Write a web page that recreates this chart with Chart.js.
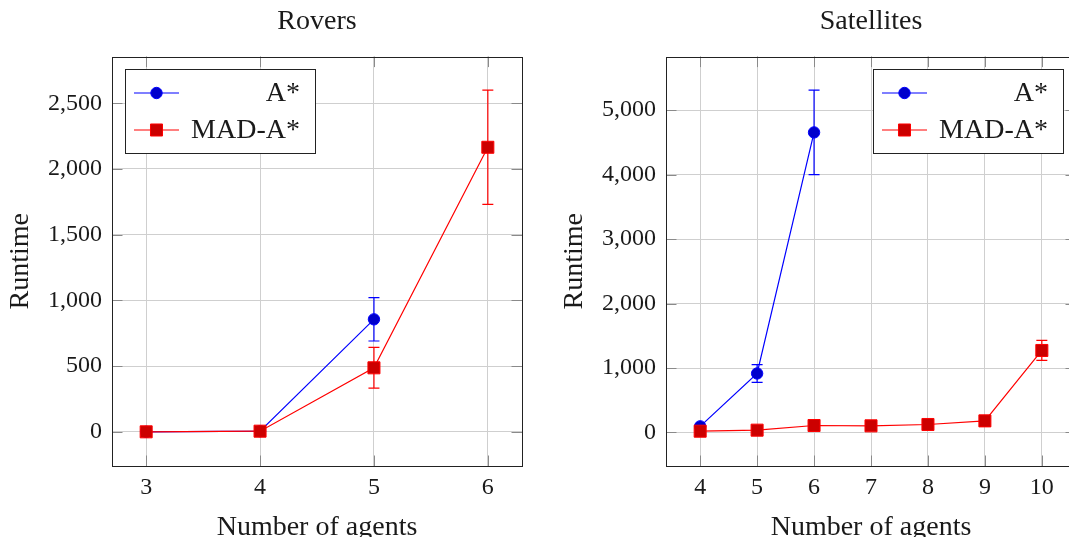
<!DOCTYPE html>
<html>
<head>
<meta charset="utf-8">
<script src="https://cdn.jsdelivr.net/npm/chart.js@4.4.1/dist/chart.umd.min.js"></script>
<style>
  html, body { margin: 0; padding: 0; background: #fff; overflow: hidden; width: 1069px; height: 537px; }
  .wrap { position: absolute; top: 0; width: 540px; height: 560px; }
  #w1 { left: 0; }
  #w2 { left: 554px; }
</style>
</head>
<body>
<div class="wrap" id="w1"><canvas id="rovers"></canvas></div>
<div class="wrap" id="w2"><canvas id="sats"></canvas></div>
<script>
// Rovers
const roversAgents = [3, 4, 5, 6];
const roversAstar = [0, 5, 856];
const roversAstarErr = [0, 0, 165];
const roversMad = [0, 5, 487, 2165];
const roversMadErr = [0, 0, 155, 435];
const roversYTicks = [0, 500, 1000, 1500, 2000, 2500];

// Satellites
const satAgents = [4, 5, 6, 7, 8, 9, 10];
const satAstar = [95, 915, 4654];
const satAstarErr = [0, 137, 655];
const satMad = [20, 36, 108, 103, 124, 180, 1272];
const satMadErr = [0, 0, 0, 0, 0, 0, 155];
const satYTicks = [0, 1000, 2000, 3000, 4000, 5000];

const FONT = "'Liberation Serif', 'Times New Roman', serif";
const INK = '#1a1a1a';
const GRID = '#cfcfcf';

function points(xs, ys) {
  return ys.map((y, i) => ({ x: xs[i], y }));
}

// vertical error bars with caps, drawn under the markers
const errorBars = {
  id: 'errorBars',
  beforeDatasetsDraw(chart) {
    const { ctx, scales: { x, y } } = chart;
    chart.data.datasets.forEach((ds) => {
      ctx.save();
      ctx.strokeStyle = ds.borderColor;
      ctx.lineWidth = 1.2;
      ds.data.forEach((p, i) => {
        const e = ds.errors[i];
        if (!e) return;
        const px = x.getPixelForValue(p.x);
        const top = y.getPixelForValue(p.y + e);
        const bot = y.getPixelForValue(p.y - e);
        ctx.beginPath();
        ctx.moveTo(px, top); ctx.lineTo(px, bot);
        ctx.moveTo(px - 5.5, top); ctx.lineTo(px + 5.5, top);
        ctx.moveTo(px - 5.5, bot); ctx.lineTo(px + 5.5, bot);
        ctx.stroke();
      });
      ctx.restore();
    });
  }
};

// box around the plot and inward tick marks on every side
const frame = {
  id: 'frame',
  beforeDatasetsDraw(chart) {
    const { ctx, chartArea: a, scales: { x, y } } = chart;
    ctx.save();
    ctx.strokeStyle = '#8a8a8a';
    ctx.lineWidth = 1;
    ctx.beginPath();
    x.ticks.forEach((t) => {
      const px = Math.round(x.getPixelForValue(t.value)) + 0.5;
      ctx.moveTo(px, a.bottom); ctx.lineTo(px, a.bottom - 10.5);
      ctx.moveTo(px, a.top); ctx.lineTo(px, a.top + 10.5);
    });
    y.ticks.forEach((t) => {
      const py = Math.round(y.getPixelForValue(t.value)) + 0.5;
      ctx.moveTo(a.left, py); ctx.lineTo(a.left + 10.5, py);
      ctx.moveTo(a.right, py); ctx.lineTo(a.right - 10.5, py);
    });
    ctx.stroke();
    ctx.strokeStyle = '#222';
    ctx.strokeRect(Math.round(a.left) + 0.5, Math.round(a.top) + 0.5,
      Math.round(a.right - a.left), Math.round(a.bottom - a.top));
    ctx.restore();
  }
};

function drawMark(ctx, ds, cx, cy) {
  ctx.fillStyle = ds.pointBackgroundColor;
  ctx.strokeStyle = ds.borderColor;
  ctx.lineWidth = 1;
  ctx.beginPath();
  if (ds.pointStyle === 'rect') {
    const s = ds.pointRadius * Math.SQRT1_2;
    ctx.rect(cx - s, cy - s, 2 * s, 2 * s);
  } else {
    ctx.arc(cx, cy, ds.pointRadius, 0, Math.PI * 2);
  }
  ctx.fill();
  ctx.stroke();
}

// pgfplots-like legend: line + marker, labels flush right
const boxLegend = {
  id: 'boxLegend',
  afterDatasetsDraw(chart, args, opts) {
    const { ctx, chartArea: a } = chart;
    const w = 190, h = 84;
    const left = Math.round(opts.side === 'right' ? a.right - 13 - w : a.left + 13);
    const top = Math.round(a.top + 12);
    ctx.save();
    ctx.fillStyle = '#fff';
    ctx.fillRect(left, top, w, h);
    ctx.strokeStyle = '#222';
    ctx.lineWidth = 1;
    ctx.strokeRect(left + 0.5, top + 0.5, w, h);
    ctx.font = `28px ${FONT}`;
    ctx.textAlign = 'right';
    ctx.textBaseline = 'middle';
    chart.data.datasets.forEach((ds, i) => {
      const cy = top + 24 + i * 37;
      ctx.strokeStyle = ds.borderColor;
      ctx.lineWidth = 1.2;
      ctx.beginPath();
      ctx.moveTo(left + 9, cy); ctx.lineTo(left + 54, cy);
      ctx.stroke();
      drawMark(ctx, ds, left + 31.5, cy);
      ctx.fillStyle = INK;
      ctx.fillText(ds.label, left + w - 15, cy + 1);
    });
    ctx.restore();
  }
};

function makeChart(id, cfg) {
  return new Chart(document.getElementById(id), {
    type: 'line',
    data: {
      datasets: [
        {
          label: 'A*',
          data: points(cfg.agents, cfg.aStar),
          errors: cfg.aStarErr,
          borderColor: '#0000ff',
          borderWidth: 1.2,
          pointStyle: 'circle',
          pointRadius: 5.7,
          pointBackgroundColor: '#0000cc',
          pointBorderColor: '#0000ff',
          pointBorderWidth: 1,
          order: 1
        },
        {
          label: 'MAD-A*',
          data: points(cfg.agents, cfg.mad),
          errors: cfg.madErr,
          borderColor: '#ff0000',
          borderWidth: 1.2,
          pointStyle: 'rect',
          pointRadius: 8.5,
          pointBackgroundColor: '#cc0000',
          pointBorderColor: '#ff0000',
          pointBorderWidth: 1,
          order: 0
        }
      ]
    },
    options: {
      responsive: true,
      maintainAspectRatio: false,
      animation: false,
      layout: { padding: { left: 0, right: 18, top: 0, bottom: 0 } },
      scales: {
        x: {
          type: 'linear',
          min: cfg.xMin,
          max: cfg.xMax,
          afterBuildTicks: (s) => { s.ticks = cfg.agents.map((v) => ({ value: v })); },
          afterFit: (s) => { s.height = 94; },
          grid: { color: GRID, lineWidth: 1, drawTicks: false },
          border: { display: false },
          ticks: { font: { family: FONT, size: 24 }, color: INK, padding: 7 },
          title: {
            display: true, text: 'Number of agents', color: INK,
            font: { family: FONT, size: 28 }, padding: { top: 0, bottom: 16 }
          }
        },
        y: {
          min: cfg.yMin,
          max: cfg.yMax,
          afterBuildTicks: (s) => { s.ticks = cfg.yTicks.map((v) => ({ value: v })); },
          afterFit: (s) => { s.width = 112; },
          grid: { color: GRID, lineWidth: 1, drawTicks: false },
          border: { display: false },
          ticks: {
            font: { family: FONT, size: 24 }, color: INK, padding: 10,
            callback: (v) => v.toLocaleString('en-US')
          },
          title: {
            display: true, text: 'Runtime', color: INK,
            font: { family: FONT, size: 28 }, padding: { top: 4, bottom: 0 }
          }
        }
      },
      plugins: {
        legend: { display: false },
        tooltip: { enabled: false },
        title: {
          display: true, text: cfg.title, color: INK, fullSize: false,
          font: { family: FONT, size: 28, weight: 'normal' },
          padding: { top: 5, bottom: 18 }
        },
        boxLegend: { side: cfg.legendSide }
      }
    },
    plugins: [frame, errorBars, boxLegend]
  });
}

makeChart('rovers', {
  title: 'Rovers',
  agents: roversAgents,
  aStar: roversAstar, aStarErr: roversAstarErr,
  mad: roversMad, madErr: roversMadErr,
  xMin: 2.7, xMax: 6.3,
  yMin: -260, yMax: 2855,
  yTicks: roversYTicks,
  legendSide: 'left'
});

makeChart('sats', {
  title: 'Satellites',
  agents: satAgents,
  aStar: satAstar, aStarErr: satAstarErr,
  mad: satMad, madErr: satMadErr,
  xMin: 3.4, xMax: 10.6,
  yMin: -520, yMax: 5830,
  yTicks: satYTicks,
  legendSide: 'right'
});
</script>
</body>
</html>
